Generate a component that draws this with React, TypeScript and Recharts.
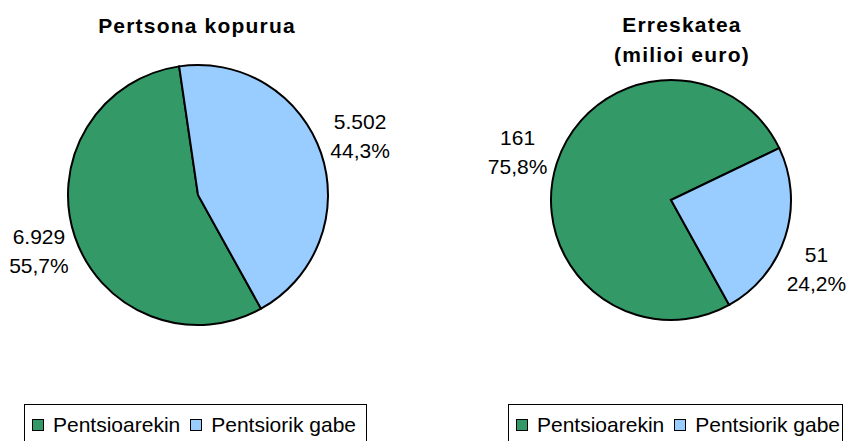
import React from 'react';
import { PieChart, Pie, Cell, Legend } from 'recharts';

const categories = ['Pentsioarekin', 'Pentsiorik gabe'];
const colors = ['#339966', '#99CCFF'];

const personValues = [6929, 5502];
const personPercents = ['55,7%', '44,3%'];

const rescueValues = [161, 51];
const rescuePercents = ['75,8%', '24,2%'];

const FONT = '"Liberation Sans", Arial, sans-serif';
const RAD = Math.PI / 180;

const fmt = (v: number) => v.toString().replace(/\B(?=(\d{3})+(?!\d))/g, '.');

// shifts: small per-slice nudges so labels sit where Excel put them
const makeLabel = (percents: string[], shifts: [number, number][]) => (props: any) => {
  const { cx, cy, midAngle, outerRadius, value, index } = props;
  const r = outerRadius + 40;
  const [sx, sy] = shifts[index] || [0, 0];
  const x = cx + r * Math.cos(-midAngle * RAD) + sx;
  const y = cy + r * Math.sin(-midAngle * RAD) + sy;
  return (
    <text x={x} y={y} textAnchor="middle" fontSize={21} fontFamily={FONT} fill="#000">
      <tspan x={x} y={y - 7}>{fmt(value)}</tspan>
      <tspan x={x} y={y + 22}>{percents[index]}</tspan>
    </text>
  );
};

const LegendBox = ({ payload }: any) => (
  <div
    style={{
      display: 'flex',
      alignItems: 'center',
      height: 42,
      boxSizing: 'border-box',
      border: '1px solid #000',
      padding: '0 7px',
      whiteSpace: 'nowrap',
      fontFamily: FONT,
      fontSize: 21,
      color: '#000',
      background: '#fff',
    }}
  >
    {(payload || []).map((p: any, i: number) => (
      <span key={i} style={{ display: 'inline-flex', alignItems: 'center', marginRight: 10 }}>
        <span
          style={{
            width: 10,
            height: 10,
            border: '1px solid #000',
            background: p.color,
            marginRight: 9,
            display: 'inline-block',
          }}
        />
        {p.value}
      </span>
    ))}
  </div>
);

interface BlockProps {
  values: number[];
  percents: string[];
  left: number;
  width: number;
  cx: number;
  cy: number;
  radius: number;
  legendLeft: number;
  legendWidth: number;
  labelShifts: [number, number][];
}

const PieBlock = ({
  values,
  percents,
  left,
  width,
  cx,
  cy,
  radius,
  legendLeft,
  legendWidth,
  labelShifts,
}: BlockProps) => {
  const data = categories.map((name, i) => ({ name, value: values[i] }));
  return (
    <div style={{ position: 'absolute', left, top: 0 }}>
      <PieChart width={width} height={441} margin={{ top: 0, right: 0, bottom: 0, left: 0 }}>
        <Pie
          data={data}
          dataKey="value"
          nameKey="name"
          cx={cx}
          cy={cy}
          outerRadius={radius}
          startAngle={299}
          endAngle={-61}
          stroke="#000"
          strokeWidth={2}
          label={makeLabel(percents, labelShifts)}
          labelLine={false}
          isAnimationActive={false}
        >
          {data.map((_, i) => (
            <Cell key={i} fill={colors[i]} />
          ))}
        </Pie>
        <Legend
          content={<LegendBox />}
          verticalAlign="bottom"
          wrapperStyle={{ left: legendLeft, top: 404, bottom: 'auto', width: legendWidth }}
        />
      </PieChart>
    </div>
  );
};

export default function App() {
  return (
    <div
      style={{
        position: 'absolute',
        left: 0,
        top: 0,
        width: 851,
        height: 441,
        overflow: 'hidden',
        background: '#fff',
      }}
    >
      <PieBlock
        values={personValues}
        percents={personPercents}
        left={0}
        width={425}
        cx={198}
        cy={195}
        radius={130}
        legendLeft={24}
        legendWidth={343}
        labelShifts={[[2, 2], [1, -5]]}
      />
      <PieBlock
        values={rescueValues}
        percents={rescuePercents}
        left={425}
        width={426}
        cx={246}
        cy={200}
        radius={120}
        legendLeft={83}
        legendWidth={335}
        labelShifts={[[-1, 1], [-7, 20]]}
      />
      <svg
        width={851}
        height={441}
        style={{ position: 'absolute', left: 0, top: 0, pointerEvents: 'none' }}
      >
        <g fontFamily={FONT} fontWeight="bold" fontSize={21} letterSpacing={1.2} fill="#000" textAnchor="middle">
          <text x={197} y={33}>Pertsona kopurua</text>
          <text x={682} y={32}>Erreskatea</text>
          <text x={682} y={62}>(milioi euro)</text>
        </g>
      </svg>
    </div>
  );
}
